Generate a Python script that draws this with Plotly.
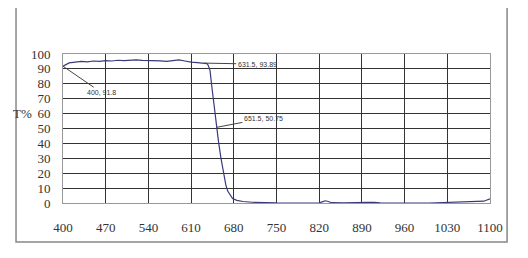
import plotly.graph_objects as go

wavelength = [400, 405, 410, 420, 430, 440, 450, 460, 470, 480, 490, 500, 510, 520, 530,
              540, 550, 560, 570, 580, 590, 600, 605, 610, 620, 625, 631.5, 636, 638, 641,
              644, 647, 649.5, 651.5, 655, 659, 663, 667, 670, 674, 678, 685, 695, 710,
              730, 750, 800, 820, 825, 830, 835, 840, 860, 890, 900, 910, 920, 1000, 1030,
              1060, 1080, 1090, 1095, 1100]
transmittance = [91.8, 93.0, 94.0, 94.5, 95.0, 94.7, 95.3, 95.0, 95.5, 95.3, 95.8, 95.5, 95.8,
                 96.0, 95.7, 95.6, 95.8, 95.4, 95.0, 95.7, 96.0, 95.3, 94.8, 94.5, 94.2, 94.0,
                 93.89, 93.5, 92.5, 89.0, 78.0, 67.0, 58.0, 50.75, 41.0, 30.0, 20.0, 12.0, 8.0,
                 5.0, 3.0, 1.8, 1.0, 0.5, 0.2, 0.05, 0.0, 0.1, 0.8, 1.5, 1.0, 0.2, 0.05, 0.0,
                 0.4, 0.5, 0.1, 0.0, 0.3, 0.5, 0.8, 1.2, 2.0, 2.8]

x_ticks = [400, 470, 540, 610, 680, 750, 820, 890, 960, 1030, 1100]
y_ticks = [0, 10, 20, 30, 40, 50, 60, 70, 80, 90, 100]

labels_x = [400, 631.5, 651.5]
labels_y = [91.8, 93.89, 50.75]
label_text = ["400, 91.8", "631.5, 93.89", "651.5, 50.75"]
label_offsets = [(38, 26), (53, 1), (47, -9)]

fig = go.Figure()
fig.add_trace(go.Scatter(x=wavelength, y=transmittance, mode="lines",
                         line=dict(color="#3a3a7a", width=1.2), hoverinfo="skip"))

serif = "Liberation Serif"
fig.update_layout(
    width=520, height=250,
    margin=dict(l=55, r=38, t=46, b=55),
    paper_bgcolor="white", plot_bgcolor="white",
    showlegend=False,
    xaxis=dict(range=[400, 1100], tickvals=x_ticks, ticktext=[str(v) for v in x_ticks],
               showgrid=True, gridcolor="#333333", gridwidth=1, zeroline=False,
               showline=True, linecolor="#999999", linewidth=1, mirror=True,
               ticks="", ticklabelstandoff=12,
               tickfont=dict(family=serif, size=13, color="#333333")),
    yaxis=dict(range=[0, 100], tickvals=y_ticks, ticktext=[str(v) for v in y_ticks],
               showgrid=True, gridcolor="#333333", gridwidth=1, zeroline=False,
               showline=True, linecolor="#999999", linewidth=1, mirror=True,
               ticks="", ticklabelstandoff=9,
               tickfont=dict(family=serif, size=13, color="#333333")),
)

for xv, yv, t, (ax, ay) in zip(labels_x, labels_y, label_text, label_offsets):
    fig.add_annotation(x=xv, y=yv, text=t, showarrow=True, arrowhead=0, arrowwidth=1,
                       arrowcolor="#444444", ax=ax, ay=ay,
                       font=dict(family="Liberation Sans", size=7, color="#333333"))

fig.add_annotation(x=-0.068, y=60, xref="paper", yref="y", text="T%", showarrow=False,
                   xanchor="right",
                   font=dict(family=serif, size=13, color="#333333"))

fig.add_shape(type="rect", xref="paper", yref="paper", x0=-0.110, x1=1.040, y0=-0.262, y1=1.336,
              line=dict(color="#888888", width=1.5), layer="below")

fig.write_html("out.html")
